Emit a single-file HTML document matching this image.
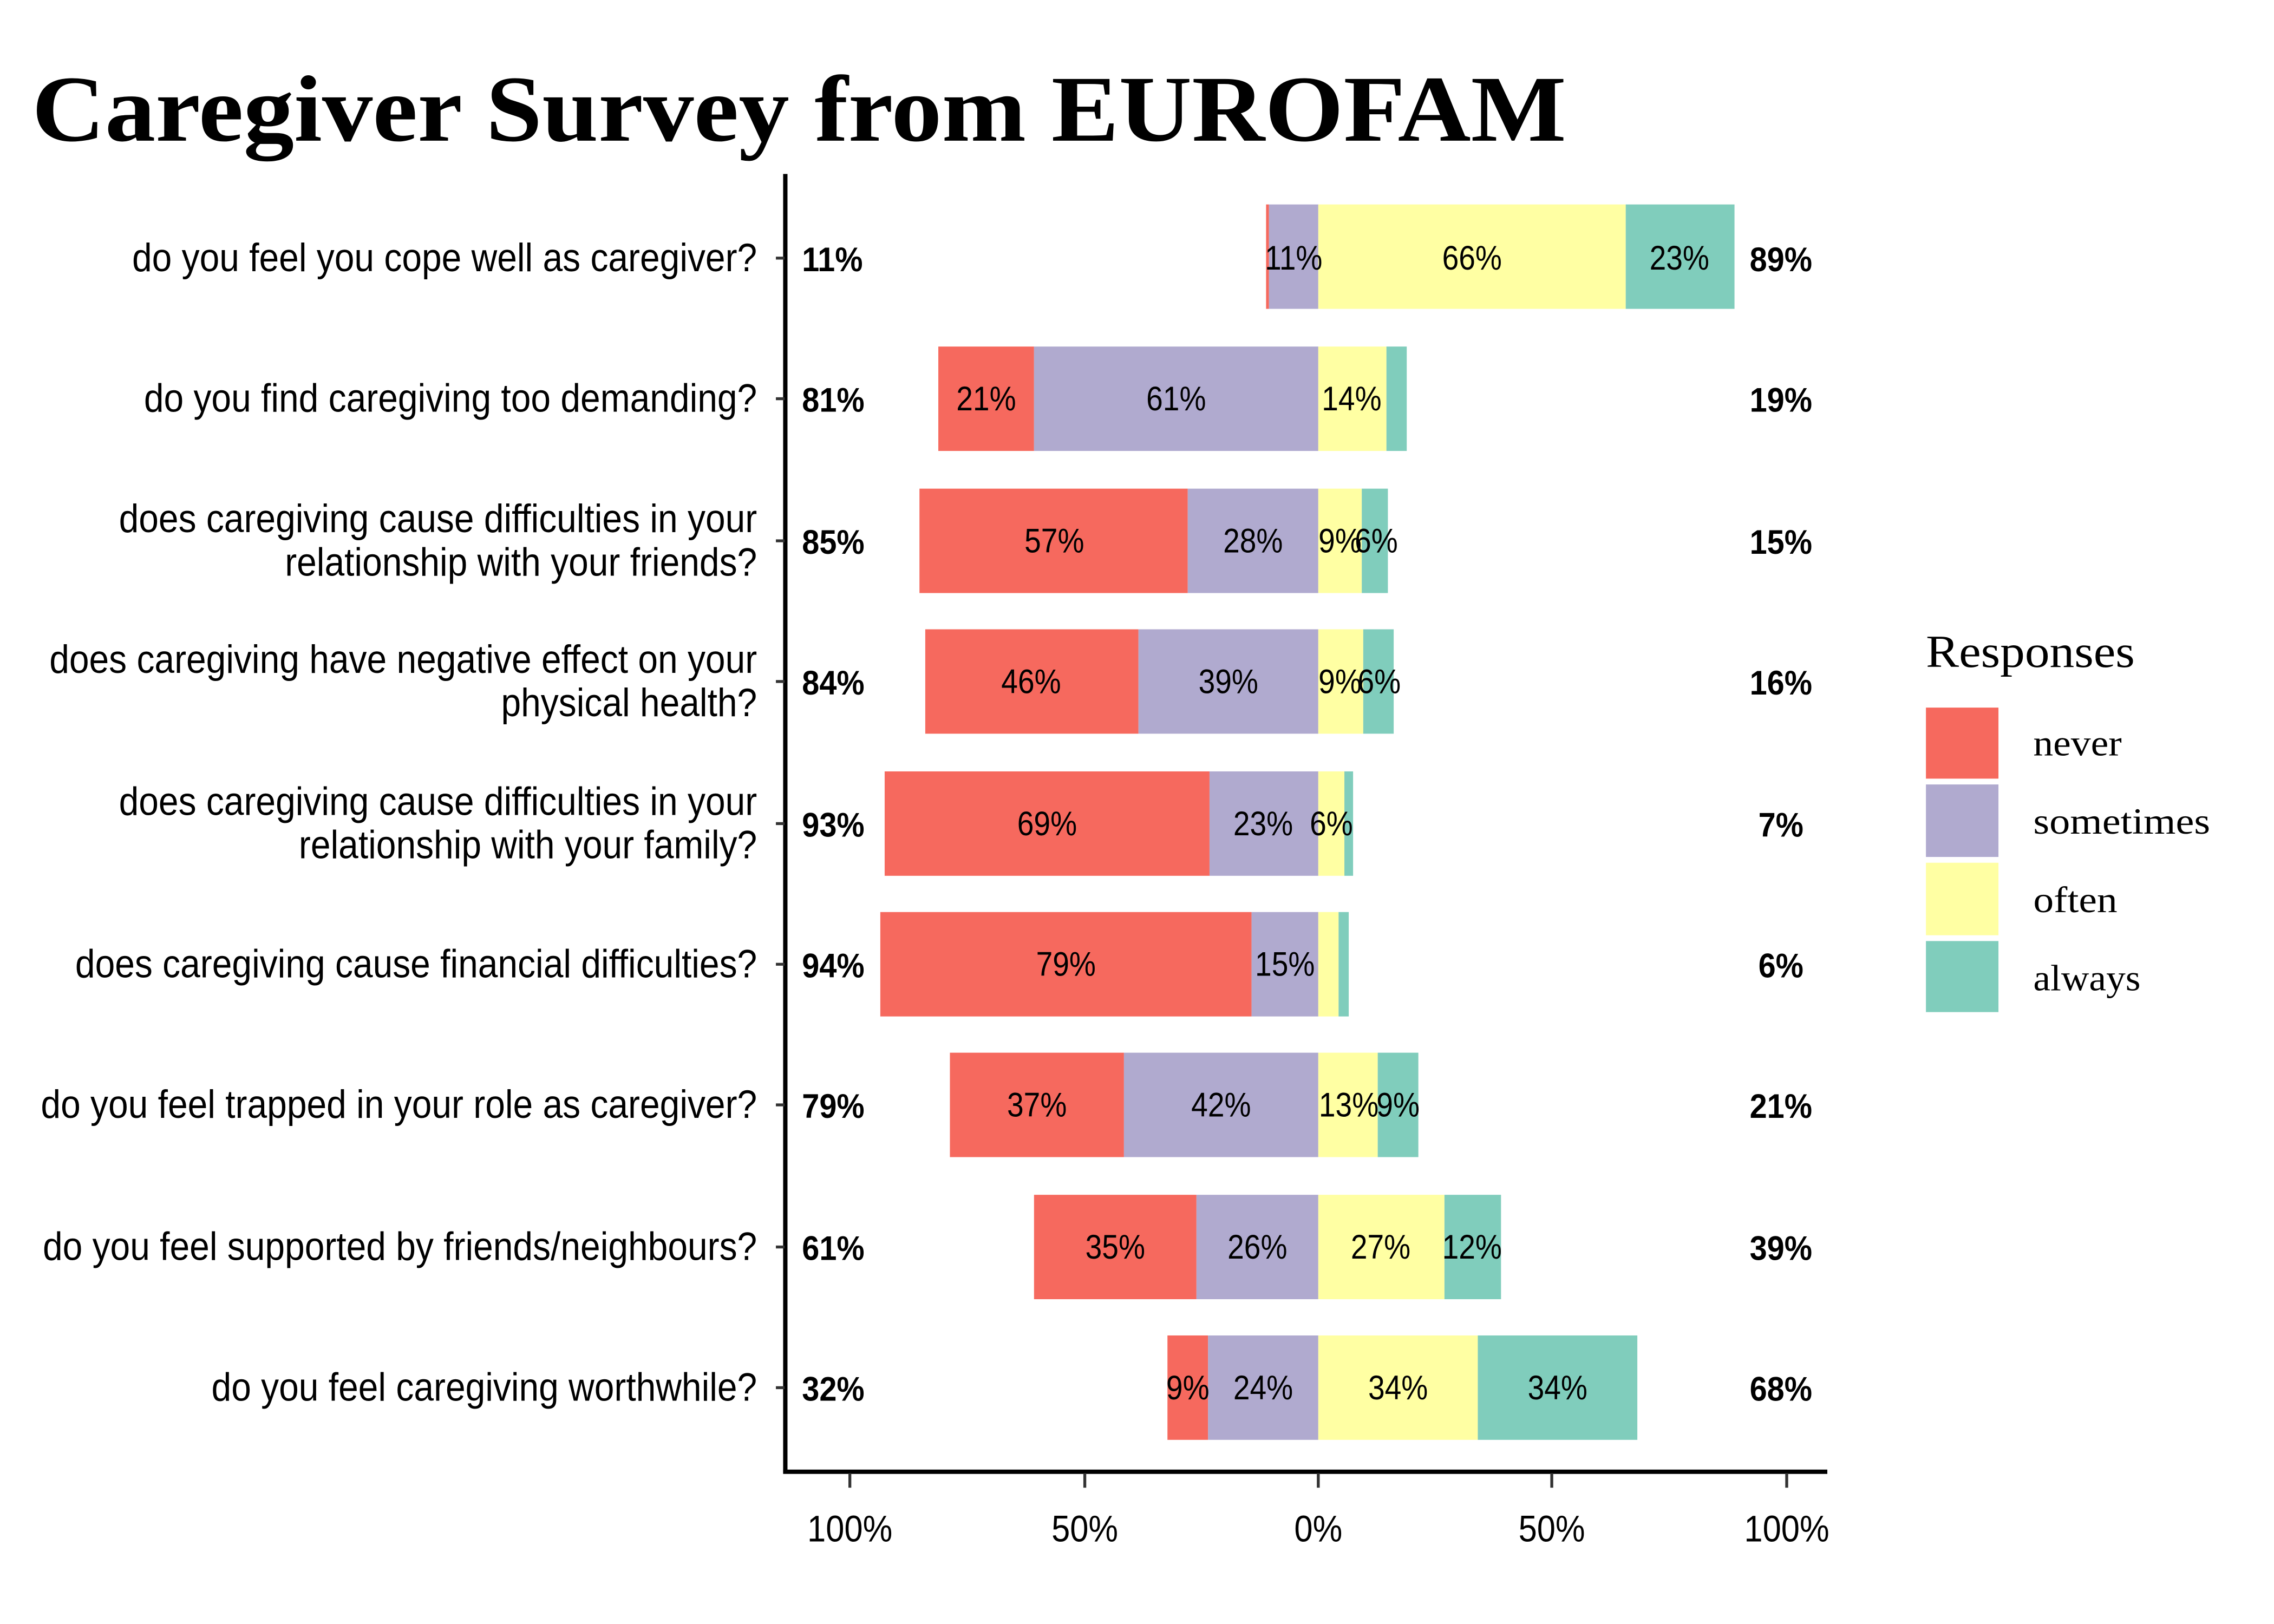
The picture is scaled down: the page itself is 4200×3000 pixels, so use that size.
<!DOCTYPE html>
<html><head><meta charset="utf-8"><style>html,body{margin:0;padding:0;background:#fff}svg{display:block}</style></head>
<body>
<svg xmlns="http://www.w3.org/2000/svg" width="4200" height="3000" viewBox="0 0 1568 1120">
<rect width="1568" height="1120" fill="#fff"/>
<text x="22" y="97" font-family="Liberation Serif, serif" font-weight="bold" font-size="65" textLength="1058" lengthAdjust="spacingAndGlyphs">Caregiver Survey from EUROFAM</text>

<g id="bars">
<rect x="873" y="141" width="2" height="72" fill="#F6695E"/><rect x="875" y="141" width="34" height="72" fill="#B0AACF"/><rect x="909" y="141" width="212" height="72" fill="#FFFFA3"/><rect x="1121" y="141" width="75" height="72" fill="#80CDBC"/>
<rect x="647" y="239" width="66" height="72" fill="#F6695E"/><rect x="713" y="239" width="196" height="72" fill="#B0AACF"/><rect x="909" y="239" width="47" height="72" fill="#FFFFA3"/><rect x="956" y="239" width="14" height="72" fill="#80CDBC"/>
<rect x="634" y="337" width="185" height="72" fill="#F6695E"/><rect x="819" y="337" width="90" height="72" fill="#B0AACF"/><rect x="909" y="337" width="30" height="72" fill="#FFFFA3"/><rect x="939" y="337" width="18" height="72" fill="#80CDBC"/>
<rect x="638" y="434" width="147" height="72" fill="#F6695E"/><rect x="785" y="434" width="124" height="72" fill="#B0AACF"/><rect x="909" y="434" width="31" height="72" fill="#FFFFA3"/><rect x="940" y="434" width="21" height="72" fill="#80CDBC"/>
<rect x="610" y="532" width="224" height="72" fill="#F6695E"/><rect x="834" y="532" width="75" height="72" fill="#B0AACF"/><rect x="909" y="532" width="18" height="72" fill="#FFFFA3"/><rect x="927" y="532" width="6" height="72" fill="#80CDBC"/>
<rect x="607" y="629" width="256" height="72" fill="#F6695E"/><rect x="863" y="629" width="46" height="72" fill="#B0AACF"/><rect x="909" y="629" width="14" height="72" fill="#FFFFA3"/><rect x="923" y="629" width="7" height="72" fill="#80CDBC"/>
<rect x="655" y="726" width="120" height="72" fill="#F6695E"/><rect x="775" y="726" width="134" height="72" fill="#B0AACF"/><rect x="909" y="726" width="41" height="72" fill="#FFFFA3"/><rect x="950" y="726" width="28" height="72" fill="#80CDBC"/>
<rect x="713" y="824" width="112" height="72" fill="#F6695E"/><rect x="825" y="824" width="84" height="72" fill="#B0AACF"/><rect x="909" y="824" width="87" height="72" fill="#FFFFA3"/><rect x="996" y="824" width="39" height="72" fill="#80CDBC"/>
<rect x="805" y="921" width="28" height="72" fill="#F6695E"/><rect x="833" y="921" width="76" height="72" fill="#B0AACF"/><rect x="909" y="921" width="110" height="72" fill="#FFFFA3"/><rect x="1019" y="921" width="110" height="72" fill="#80CDBC"/>
</g>

<g font-family="Liberation Sans, sans-serif" font-size="23.4" text-anchor="middle" fill="#000">
<text transform="translate(892,186) scale(0.88,1)">11%</text><text transform="translate(1015,186) scale(0.88,1)">66%</text><text transform="translate(1158,186) scale(0.88,1)">23%</text>
<text transform="translate(680,283) scale(0.88,1)">21%</text><text transform="translate(811,283) scale(0.88,1)">61%</text><text transform="translate(932,283) scale(0.88,1)">14%</text>
<text transform="translate(727,381) scale(0.88,1)">57%</text><text transform="translate(864,381) scale(0.88,1)">28%</text><text transform="translate(924,381) scale(0.88,1)">9%</text><text transform="translate(949,381) scale(0.88,1)">6%</text>
<text transform="translate(711,478) scale(0.88,1)">46%</text><text transform="translate(847,478) scale(0.88,1)">39%</text><text transform="translate(924,478) scale(0.88,1)">9%</text><text transform="translate(951,478) scale(0.88,1)">6%</text>
<text transform="translate(722,576) scale(0.88,1)">69%</text><text transform="translate(871,576) scale(0.88,1)">23%</text><text transform="translate(918,576) scale(0.88,1)">6%</text>
<text transform="translate(735,673) scale(0.88,1)">79%</text><text transform="translate(886,673) scale(0.88,1)">15%</text>
<text transform="translate(715,770) scale(0.88,1)">37%</text><text transform="translate(842,770) scale(0.88,1)">42%</text><text transform="translate(930,770) scale(0.88,1)">13%</text><text transform="translate(964,770) scale(0.88,1)">9%</text>
<text transform="translate(769,868) scale(0.88,1)">35%</text><text transform="translate(867,868) scale(0.88,1)">26%</text><text transform="translate(952,868) scale(0.88,1)">27%</text><text transform="translate(1015,868) scale(0.88,1)">12%</text>
<text transform="translate(819,965) scale(0.88,1)">9%</text><text transform="translate(871,965) scale(0.88,1)">24%</text><text transform="translate(964,965) scale(0.88,1)">34%</text><text transform="translate(1074,965) scale(0.88,1)">34%</text>
</g>

<g font-family="Liberation Sans, sans-serif" font-size="23.4" font-weight="bold" fill="#000">
<g text-anchor="start">
<text transform="translate(553,187) scale(0.92,1)">11%</text>
<text transform="translate(553,284) scale(0.92,1)">81%</text>
<text transform="translate(553,382) scale(0.92,1)">85%</text>
<text transform="translate(553,479) scale(0.92,1)">84%</text>
<text transform="translate(553,577) scale(0.92,1)">93%</text>
<text transform="translate(553,674) scale(0.92,1)">94%</text>
<text transform="translate(553,771) scale(0.92,1)">79%</text>
<text transform="translate(553,869) scale(0.92,1)">61%</text>
<text transform="translate(553,966) scale(0.92,1)">32%</text>
</g>
<g text-anchor="middle">
<text transform="translate(1228,187) scale(0.92,1)">89%</text>
<text transform="translate(1228,284) scale(0.92,1)">19%</text>
<text transform="translate(1228,382) scale(0.92,1)">15%</text>
<text transform="translate(1228,479) scale(0.92,1)">16%</text>
<text transform="translate(1228,577) scale(0.92,1)">7%</text>
<text transform="translate(1228,674) scale(0.92,1)">6%</text>
<text transform="translate(1228,771) scale(0.92,1)">21%</text>
<text transform="translate(1228,869) scale(0.92,1)">39%</text>
<text transform="translate(1228,966) scale(0.92,1)">68%</text>
</g>
</g>

<g font-family="Liberation Sans, sans-serif" font-size="27.5" fill="#000" text-anchor="end">
<text transform="translate(522,187) scale(0.895,1)">do you feel you cope well as caregiver?</text>
<text transform="translate(522,284) scale(0.895,1)">do you find caregiving too demanding?</text>
<text transform="translate(522,367) scale(0.895,1)">does caregiving cause difficulties in your</text>
<text transform="translate(522,397) scale(0.895,1)">relationship with your friends?</text>
<text transform="translate(522,464) scale(0.895,1)">does caregiving have negative effect on your</text>
<text transform="translate(522,494) scale(0.895,1)">physical health?</text>
<text transform="translate(522,562) scale(0.895,1)">does caregiving cause difficulties in your</text>
<text transform="translate(522,592) scale(0.895,1)">relationship with your family?</text>
<text transform="translate(522,674) scale(0.895,1)">does caregiving cause financial difficulties?</text>
<text transform="translate(522,771) scale(0.895,1)">do you feel trapped in your role as caregiver?</text>
<text transform="translate(522,869) scale(0.895,1)">do you feel supported by friends/neighbours?</text>
<text transform="translate(522,966) scale(0.895,1)">do you feel caregiving worthwhile?</text>
</g>

<g stroke="#000" stroke-width="3">
<line x1="541.5" y1="120" x2="541.5" y2="1016"/>
<line x1="540" y1="1015" x2="1260" y2="1015"/>
</g>
<g stroke="#333" stroke-width="2">
<line x1="535" y1="178" x2="541" y2="178"/><line x1="535" y1="275" x2="541" y2="275"/><line x1="535" y1="373" x2="541" y2="373"/><line x1="535" y1="470" x2="541" y2="470"/><line x1="535" y1="568" x2="541" y2="568"/><line x1="535" y1="665" x2="541" y2="665"/><line x1="535" y1="762" x2="541" y2="762"/><line x1="535" y1="860" x2="541" y2="860"/><line x1="535" y1="957" x2="541" y2="957"/>
<line x1="586" y1="1016" x2="586" y2="1026"/><line x1="748" y1="1016" x2="748" y2="1026"/><line x1="909" y1="1016" x2="909" y2="1026"/><line x1="1070" y1="1016" x2="1070" y2="1026"/><line x1="1232" y1="1016" x2="1232" y2="1026"/>
</g>
<g font-family="Liberation Sans, sans-serif" font-size="25.5" fill="#000" text-anchor="middle">
<text transform="translate(586,1063) scale(0.9,1)">100%</text>
<text transform="translate(748,1063) scale(0.9,1)">50%</text>
<text transform="translate(909,1063) scale(0.9,1)">0%</text>
<text transform="translate(1070,1063) scale(0.9,1)">50%</text>
<text transform="translate(1232,1063) scale(0.9,1)">100%</text>
</g>

<text x="1328" y="460" font-family="Liberation Serif, serif" font-size="31.5" fill="#000" textLength="144" lengthAdjust="spacingAndGlyphs">Responses</text>
<rect x="1328" y="488" width="50" height="49" fill="#F6695E"/>
<rect x="1328" y="541" width="50" height="50" fill="#B0AACF"/>
<rect x="1328" y="595" width="50" height="50" fill="#FFFFA3"/>
<rect x="1328" y="649" width="50" height="49" fill="#80CDBC"/>
<g font-family="Liberation Serif, serif" font-size="25.5" fill="#000">
<text x="1402" y="521" textLength="61" lengthAdjust="spacingAndGlyphs">never</text>
<text x="1402" y="575" textLength="122" lengthAdjust="spacingAndGlyphs">sometimes</text>
<text x="1402" y="629" textLength="58" lengthAdjust="spacingAndGlyphs">often</text>
<text x="1402" y="683" textLength="74" lengthAdjust="spacingAndGlyphs">always</text>
</g>
</svg>
</body></html>
